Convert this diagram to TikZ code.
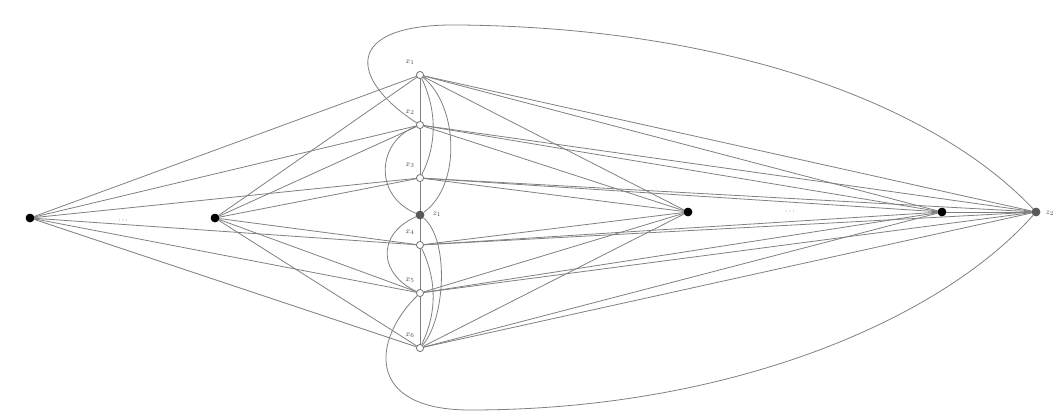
\documentclass[tikz,border=0pt]{standalone}
\begin{document}
\begin{tikzpicture}[x=1pt,y=-1pt,
  edge/.style={draw=black!50, line width=0.8pt},
  blk/.style={circle, fill=black, inner sep=0pt, minimum size=8.5pt},
  zv/.style={circle, fill=black!65, inner sep=0pt, minimum size=8.5pt},
  xv/.style={circle, draw=black!55, fill=white, line width=0.7pt, inner sep=0pt, minimum size=7pt},
  lab/.style={font=\footnotesize, text=black!70, inner sep=1pt}]
\useasboundingbox (0,0) rectangle (1058,418);
% column vertices
\node[xv] (x1) at (420,75) {};
\node[xv] (x2) at (420,125) {};
\node[xv] (x3) at (420,178) {};
\node[zv] (z1) at (420,215) {};
\node[xv] (x4) at (420,245) {};
\node[xv] (x5) at (420,293) {};
\node[xv] (x6) at (420,348) {};
% outer vertices
\node[blk] (l1) at (30,218) {};
\node[blk] (l2) at (215,218) {};
\node[blk] (r1) at (688,212) {};
\node[blk] (r2) at (942,212) {};
\node[zv] (z2) at (1036,212) {};
% edges
\foreach \o in {l1,l2,r1,r2,z2}{
  \foreach \x in {x1,x2,x3,x4,x5,x6}{
    \draw[edge] (\o) -- (\x);
  }
}
\draw[edge] (r2) -- (z2);
\draw[edge] (x1) -- (x2) -- (x3) -- (z1) -- (x4) -- (x5) -- (x6);
% local curves
\draw[edge] (x1) .. controls (437,110) and (437,145) .. (x3);
\draw[edge] (x1) .. controls (458,105) and (462,185) .. (z1);
\draw[edge] (x2) .. controls (378,140) and (372,195) .. (z1);
\draw[edge] (x6) .. controls (437,313) and (437,280) .. (x4);
\draw[edge] (x6) .. controls (445,320) and (450,240) .. (z1);
\draw[edge] (x5) .. controls (380,275) and (375,235) .. (z1);
% big arcs
\draw[edge] (z2) .. controls (940,110) and (740,28) .. (460,25) .. controls (340,23) and (350,80) .. (x2);
\draw[edge] (z2) .. controls (940,320) and (730,410) .. (470,410) .. controls (365,410) and (372,340) .. (x5);
% redraw nodes on top
\node[xv] at (x1) {};
\node[xv] at (x2) {};
\node[xv] at (x3) {};
\node[zv] at (z1) {};
\node[xv] at (x4) {};
\node[xv] at (x5) {};
\node[xv] at (x6) {};
\node[blk] at (l1) {};
\node[blk] at (l2) {};
\node[blk] at (r1) {};
\node[blk] at (r2) {};
\node[zv] at (z2) {};
% labels
\node[lab] (lx1) at (410,62) {$x_1$};
\node[lab] (lx2) at (410,112) {$x_2$};
\node[lab] (lx3) at (410,165) {$x_3$};
\node[lab] (lz1) at (437,214) {$z_1$};
\node[lab] (lx4) at (410,232) {$x_4$};
\node[lab] (lx5) at (410,280) {$x_5$};
\node[lab] (lx6) at (410,335) {$x_6$};
\node[lab] (lz2) at (1050,213) {$z_2$};
\node[lab, text=black!80] (d1) at (123,221) {$\cdots$};
\node[lab, text=black!80] (d2) at (790,212) {$\cdots$};
\end{tikzpicture}
\end{document}
